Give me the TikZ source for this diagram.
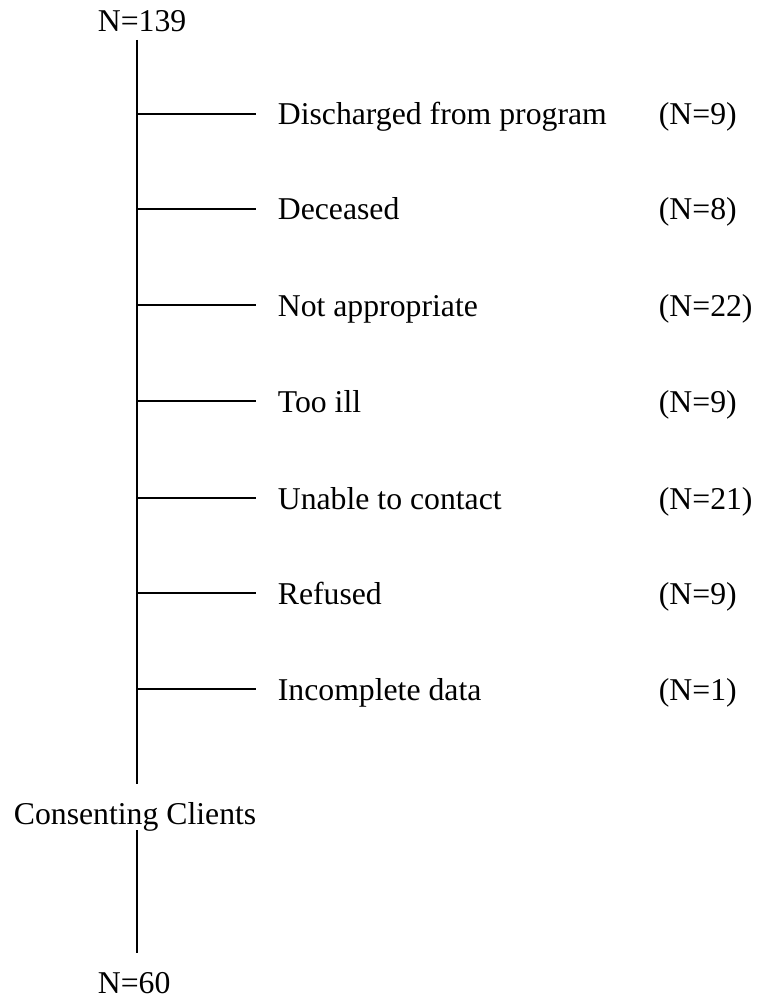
\documentclass[tikz,border=0pt]{standalone}
\usepackage{fontspec}
\setmainfont{Liberation Serif}
\begin{document}
\begin{tikzpicture}[x=0.75pt,y=-0.75pt,line width=1.3pt]
\tikzstyle{every node}=[inner sep=0pt,anchor=base west,font=\fontsize{23.8}{28}\selectfont]
\useasboundingbox (0,0) rectangle (762,998);
\node (top) at (97,32) {N=139};
\node (cc) at (13,824) {Consenting Clients};
\node (bot) at (97,993) {N=60};
\coordinate (s0) at (137,40);
\coordinate (s1) at (137,784);
\coordinate (s2) at (137,830);
\coordinate (s3) at (137,953);
\draw (s0) -- (s1);
\draw (s2) -- (s3);
\foreach \y/\lab/\cnt [count=\i] in {114/Discharged from program/9,
  209/Deceased/8, 305/Not appropriate/22, 401/Too ill/9,
  498/Unable to contact/21, 593/Refused/9, 689/Incomplete data/1}{
  \coordinate (b\i) at (137,\y);
  \coordinate (e\i) at (256,\y);
  \draw (b\i) -- (e\i);
  \node (r\i) at (277,\y+11) {\lab};
  \node (n\i) at (658,\y+11) {(N=\cnt)};
}
\end{tikzpicture}
\end{document}
